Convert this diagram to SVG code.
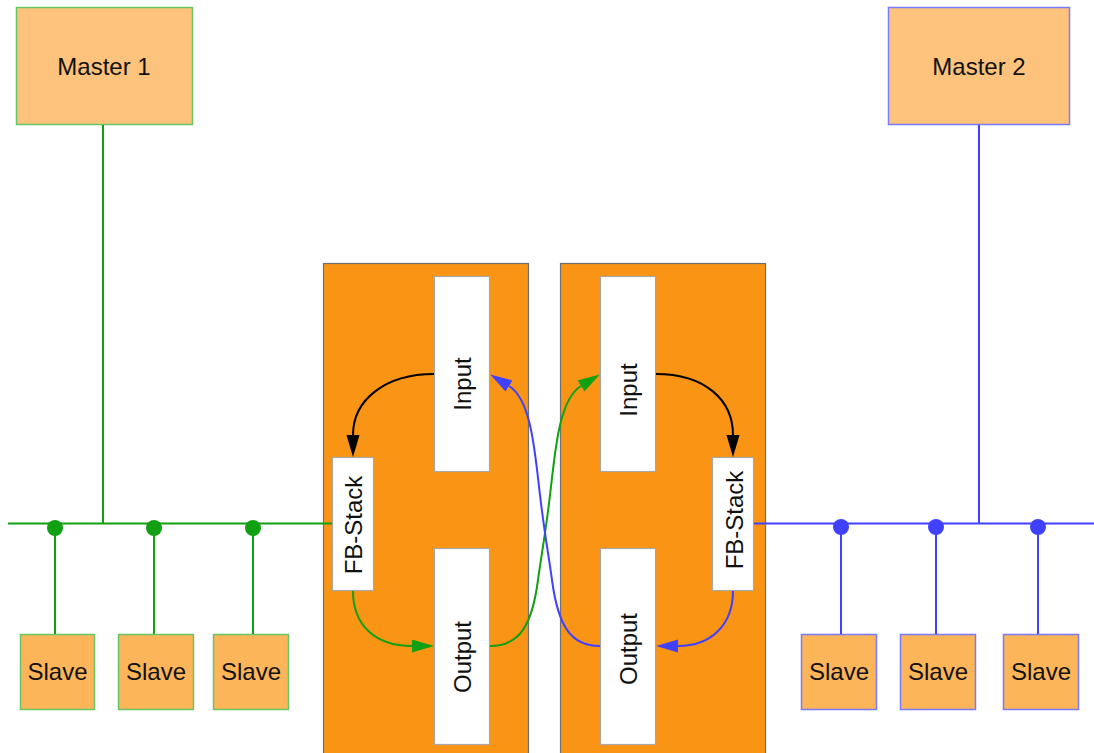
<svg xmlns="http://www.w3.org/2000/svg" width="1094" height="753" viewBox="0 0 1094 753">
<style>
.lbl{font-family:"Liberation Sans",Arial,sans-serif;font-size:24px;fill:#111;text-anchor:middle}
.master{fill:#fdc37c;stroke-width:1.5}
.slave{fill:#fdb55a;stroke-width:1.5}
.g{stroke:#66c666}
.b{stroke:#7a7aff}
.dev{fill:#fa9414;stroke:#707070;stroke-width:1.2}
.blk{fill:#fff;stroke:#a8a8a8;stroke-width:1.2}
.gl{stroke:#11a011;stroke-width:2;fill:none}
.bl{stroke:#4040ff;stroke-width:2;fill:none}
.kl{stroke:#000;stroke-width:2;fill:none}
</style>
<defs>
<marker id="ak" markerUnits="userSpaceOnUse" markerWidth="24" markerHeight="14" refX="0" refY="6.5" orient="auto"><path d="M0,0 L22,6.5 L0,13 z" fill="#000"/></marker>
<marker id="ag" markerUnits="userSpaceOnUse" markerWidth="24" markerHeight="14" refX="0" refY="6.5" orient="auto"><path d="M0,0 L22,6.5 L0,13 z" fill="#11a011"/></marker>
<marker id="ab" markerUnits="userSpaceOnUse" markerWidth="24" markerHeight="14" refX="0" refY="6.5" orient="auto"><path d="M0,0 L22,6.5 L0,13 z" fill="#4040ff"/></marker>
</defs>
<rect width="1094" height="753" fill="#fff"/>

<g id="device1"><rect class="dev" x="323.5" y="263.5" width="205" height="500"/></g>
<g id="device2"><rect class="dev" x="560.5" y="263.5" width="205" height="500"/></g>

<g id="input1"><rect class="blk" x="434.5" y="276.5" width="55" height="195"/><text class="lbl" transform="translate(462,384) rotate(-90)" y="8.5">Input</text></g>
<g id="output1"><rect class="blk" x="434.5" y="548.5" width="55" height="196"/><text class="lbl" transform="translate(462,657) rotate(-90)" y="8.5">Output</text></g>
<g id="fbstack1"><rect class="blk" x="332.5" y="457.5" width="41" height="133"/><text class="lbl" transform="translate(353,525) rotate(-90)" y="8.5">FB-Stack</text></g>
<g id="input2"><rect class="blk" x="600.5" y="276.5" width="55" height="195"/><text class="lbl" transform="translate(628,390) rotate(-90)" y="8.5">Input</text></g>
<g id="output2"><rect class="blk" x="600.5" y="548.5" width="55" height="196"/><text class="lbl" transform="translate(628,649) rotate(-90)" y="8.5">Output</text></g>
<g id="fbstack2"><rect class="blk" x="712.5" y="457.5" width="41" height="133"/><text class="lbl" transform="translate(733,520) rotate(-90)" y="9.5">FB-Stack</text></g>

<g id="master1"><rect class="master g" x="16.5" y="7.5" width="176" height="117"/><text class="lbl" x="104" y="75">Master 1</text></g>
<g id="master2"><rect class="master b" x="888.5" y="7.5" width="181" height="117"/><text class="lbl" x="979" y="75">Master 2</text></g>

<g id="slave1"><rect class="slave g" x="20.5" y="634.5" width="74" height="75"/><text class="lbl" x="57.5" y="680">Slave</text></g>
<g id="slave2"><rect class="slave g" x="118.5" y="634.5" width="75" height="75"/><text class="lbl" x="156" y="680">Slave</text></g>
<g id="slave3"><rect class="slave g" x="213.5" y="634.5" width="75" height="75"/><text class="lbl" x="251" y="680">Slave</text></g>
<g id="slave4"><rect class="slave b" x="801.5" y="634.5" width="75" height="75"/><text class="lbl" x="839" y="680">Slave</text></g>
<g id="slave5"><rect class="slave b" x="900.5" y="634.5" width="75" height="75"/><text class="lbl" x="938" y="680">Slave</text></g>
<g id="slave6"><rect class="slave b" x="1003.5" y="634.5" width="75" height="75"/><text class="lbl" x="1041" y="680">Slave</text></g>

<g id="connectors">
<path class="gl" d="M8,523.5 H332"/>
<path class="gl" d="M103,125 V523.5"/>
<path class="gl" d="M55,527 V634 M154,527 V634 M253,527 V634"/>
<g fill="#11a011"><circle cx="55" cy="528" r="8"/><circle cx="154" cy="528" r="8"/><circle cx="253" cy="528" r="8"/></g>
<path class="bl" d="M754,523.5 H1094"/>
<path class="bl" d="M979,125 V523.5"/>
<path class="bl" d="M841,527 V634 M936,527 V634 M1038,527 V634"/>
<g fill="#4040ff"><circle cx="841" cy="527" r="8"/><circle cx="936" cy="527" r="8"/><circle cx="1038" cy="527" r="8"/></g>

<path class="kl" d="M434,374 C385,374 353,400 353,435" marker-end="url(#ak)"/>
<path class="kl" d="M656,374 C705,374 733,400 733,435" marker-end="url(#ak)"/>
<path class="gl" d="M353,591 C353,625 375,646 412,646" marker-end="url(#ag)"/>
<path class="bl" d="M733,591 C733,625 711,646 678,646" marker-end="url(#ab)"/>
<path class="gl" d="M490,646 C520,646 532,625 538,580 C541,558 546,530 550,495 C555,455 558,400 581,386" marker-end="url(#ag)"/>
<path class="bl" d="M600,646 C570,646 558,625 552,580 C549,558 544,530 540,495 C535,455 532,400 509,386" marker-end="url(#ab)"/>
</g>
</svg>
